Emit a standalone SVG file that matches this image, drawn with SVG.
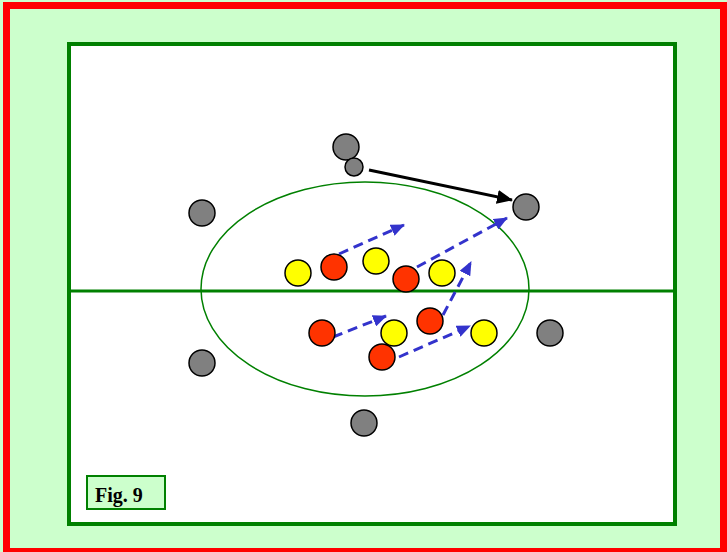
<svg xmlns="http://www.w3.org/2000/svg" width="727" height="552" viewBox="0 0 727 552">
<style>
.gray{fill:#808080;stroke:#000;stroke-width:1.5}
.yel{fill:#ffff00;stroke:#000;stroke-width:1.5}
.red{fill:#ff3300;stroke:#000;stroke-width:1.5}
.run{stroke:#3333cc;stroke-width:3;stroke-dasharray:10 6;fill:none}
.pass{stroke:#000;stroke-width:3;fill:none}
</style>
<defs>
<marker id="bh" markerUnits="userSpaceOnUse" markerWidth="14" markerHeight="12" refX="13" refY="6" orient="auto"><path d="M0,0 L14,6 L0,12 Z" fill="#3333cc"/></marker>
<marker id="kh" markerUnits="userSpaceOnUse" markerWidth="16" markerHeight="14" refX="15" refY="7" orient="auto"><path d="M0,0 L16,7 L0,14 Z" fill="#000"/></marker>
</defs>
<rect x="0" y="0" width="727" height="552" fill="#ccffcc"/>
<rect x="6.5" y="5.5" width="717" height="546" fill="none" stroke="#ff0000" stroke-width="7"/>
<g id="field">
<rect x="69" y="44" width="606" height="480" fill="#ffffff" stroke="#008000" stroke-width="4"/>
<line x1="69" y1="291" x2="675" y2="291" stroke="#008000" stroke-width="3"/>
<ellipse cx="365" cy="289" rx="164" ry="107" fill="none" stroke="#008000" stroke-width="1.5"/>
</g>
<g id="connectors">
<line class="pass" x1="369" y1="170" x2="512" y2="200" marker-end="url(#kh)"/>
<line class="run" x1="339" y1="254" x2="404" y2="225" marker-end="url(#bh)"/>
<line class="run" x1="417" y1="267" x2="507" y2="218" marker-end="url(#bh)"/>
<line class="run" x1="333" y1="337" x2="386" y2="316" marker-end="url(#bh)"/>
<line class="run" x1="443" y1="315" x2="471" y2="262" marker-end="url(#bh)"/>
<line class="run" x1="399" y1="357" x2="470" y2="326" marker-end="url(#bh)"/>
</g>
<g id="gray1"><circle class="gray" cx="346" cy="147" r="13"/></g>
<g id="ball"><circle class="gray" cx="354" cy="167" r="9"/></g>
<g id="gray2"><circle class="gray" cx="526" cy="207" r="13"/></g>
<g id="gray3"><circle class="gray" cx="202" cy="213" r="13"/></g>
<g id="gray4"><circle class="gray" cx="550" cy="333" r="13"/></g>
<g id="gray5"><circle class="gray" cx="202" cy="363" r="13"/></g>
<g id="gray6"><circle class="gray" cx="364" cy="423" r="13"/></g>
<g id="yellow1"><circle class="yel" cx="298" cy="273" r="13"/></g>
<g id="yellow2"><circle class="yel" cx="376" cy="261" r="13"/></g>
<g id="yellow3"><circle class="yel" cx="442" cy="273" r="13"/></g>
<g id="yellow4"><circle class="yel" cx="394" cy="333" r="13"/></g>
<g id="yellow5"><circle class="yel" cx="484" cy="333" r="13"/></g>
<g id="red1"><circle class="red" cx="334" cy="267" r="13"/></g>
<g id="red2"><circle class="red" cx="406" cy="279" r="13"/></g>
<g id="red3"><circle class="red" cx="322" cy="333" r="13"/></g>
<g id="red4"><circle class="red" cx="430" cy="321" r="13"/></g>
<g id="red5"><circle class="red" cx="382" cy="357" r="13"/></g>
<g id="label">
<rect x="87" y="476" width="78" height="33" fill="#ccffcc" stroke="#008000" stroke-width="2"/>
<text x="95" y="501.5" font-family="'Liberation Serif', serif" font-weight="bold" font-size="20" fill="#000">Fig. 9</text>
</g>
</svg>
